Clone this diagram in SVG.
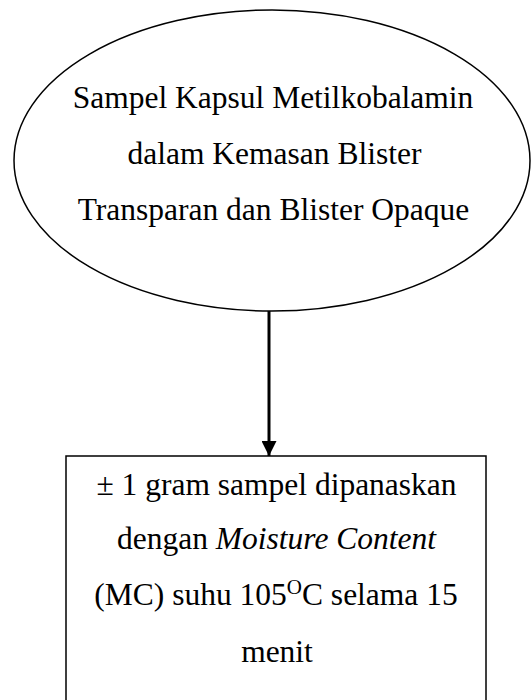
<svg xmlns="http://www.w3.org/2000/svg" width="532" height="700" viewBox="0 0 532 700">
<style>
.t{font-family:"Liberation Serif","Times New Roman",serif;font-size:31.5px;fill:#000;text-anchor:middle}
.shape{fill:#fff;stroke:#000;stroke-width:1.5}
</style>
<defs>
<marker id="arr" markerWidth="5" markerHeight="5" refX="5" refY="2.5" orient="auto" markerUnits="strokeWidth">
<path d="M0,0 L5,2.5 L0,5 Z" fill="#000"/>
</marker>
</defs>
<rect width="532" height="700" fill="#fff"/>
<g id="node-sample">
<ellipse class="shape" cx="272" cy="160.5" rx="258" ry="150.5"/>
<text class="t" x="273" y="108">Sampel Kapsul Metilkobalamin</text>
<text class="t" x="274.5" y="164">dalam Kemasan  Blister</text>
<text class="t" x="273.5" y="220">Transparan dan Blister Opaque</text>
</g>
<g id="node-process">
<rect class="shape" x="66" y="456" width="420" height="270"/>
<text class="t" x="276.5" y="495">± 1 gram sampel dipanaskan</text>
<text class="t" x="276.5" y="549">dengan <tspan font-style="italic">Moisture Content</tspan></text>
<text class="t" x="276" y="605">(MC) suhu 105<tspan font-size="21" dy="-11">O</tspan><tspan dy="11">C selama 15</tspan></text>
<text class="t" x="277" y="662">menit</text>
</g>
<g id="connectors">
<line x1="269" y1="311" x2="269" y2="456" stroke="#000" stroke-width="3" marker-end="url(#arr)"/>
</g>
</svg>
